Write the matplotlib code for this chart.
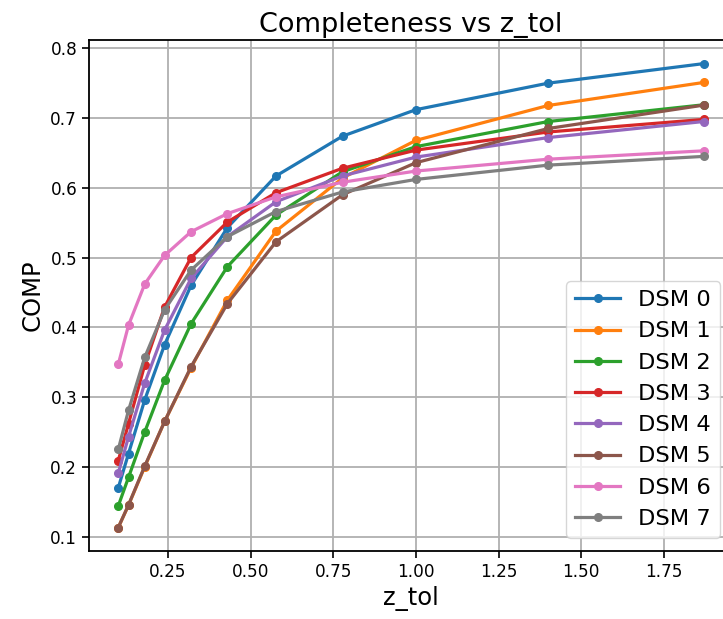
import numpy as np
import matplotlib
matplotlib.use("Agg")
import matplotlib.pyplot as plt

# ------------------------------
# Data
# ------------------------------
z_tol = [0.1, 0.131, 0.18, 0.24, 0.32, 0.43, 0.577, 0.778, 1.0, 1.4, 1.87]

dsm0 = [0.170, 0.219, 0.296, 0.375, 0.460, 0.543, 0.617, 0.674, 0.712, 0.750, 0.778]
dsm1 = [0.113, 0.145, 0.200, 0.265, 0.342, 0.439, 0.538, 0.614, 0.668, 0.718, 0.751]
dsm2 = [0.144, 0.185, 0.250, 0.324, 0.405, 0.487, 0.561, 0.623, 0.659, 0.695, 0.719]
dsm3 = [0.209, 0.262, 0.346, 0.429, 0.500, 0.551, 0.593, 0.628, 0.654, 0.680, 0.698]
dsm4 = [0.191, 0.243, 0.320, 0.396, 0.470, 0.530, 0.580, 0.617, 0.644, 0.672, 0.695]
dsm5 = [0.113, 0.1455, 0.201, 0.265, 0.3435, 0.434, 0.5226, 0.590, 0.636, 0.685, 0.7185]
dsm6 = [0.347, 0.403, 0.462, 0.503, 0.537, 0.563, 0.587, 0.608, 0.624, 0.641, 0.653]
dsm7 = [0.225, 0.281, 0.357, 0.425, 0.482, 0.530, 0.566, 0.594, 0.612, 0.6325, 0.645]

series = [dsm0, dsm1, dsm2, dsm3, dsm4, dsm5, dsm6, dsm7]
labels = ["DSM 0", "DSM 1", "DSM 2", "DSM 3", "DSM 4", "DSM 5", "DSM 6", "DSM 7"]

# ------------------------------
# Plot
# ------------------------------
fig = plt.figure(figsize=(7.23, 6.19), dpi=100)
# axes run a bit past the right edge, like the cropped original
ax = fig.add_axes([0.1231, 0.1103, 0.8907, 0.8244])

for vals, lab in zip(series, labels):
    ax.plot(z_tol, vals, marker="o", markersize=5.5, linewidth=2.3, label=lab)

ax.set_title("Completeness vs z_tol", fontsize=19.5)
ax.set_xlabel("z_tol", fontsize=17.5)
ax.set_ylabel("COMP", fontsize=17.5)
ax.tick_params(labelsize=12.2, width=1.2, length=5)
ax.set_xticks([0.25, 0.5, 0.75, 1.0, 1.25, 1.5, 1.75])
ax.grid(True, color="#b0b0b0", linewidth=1.3)
for s in ax.spines.values():
    s.set_linewidth(1.3)

ax.legend(loc="lower right", bbox_to_anchor=(0.98, 0.025),
          bbox_transform=ax.transAxes, borderaxespad=0, fontsize=16.2)

plt.savefig("out.png", dpi=100)
